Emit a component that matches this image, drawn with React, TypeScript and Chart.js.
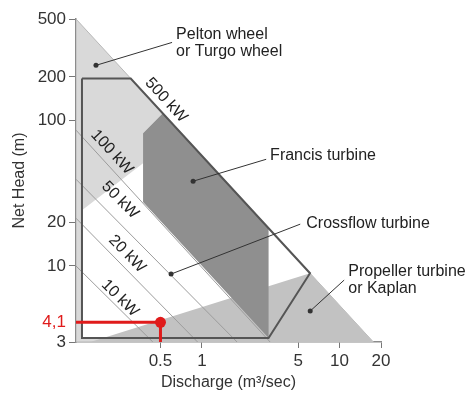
import React, { useEffect, useRef } from "react";
import { Chart, registerables } from "chart.js";

Chart.register(...registerables);

type P = [number, number];

// Axis ranges (discharge m3/s, net head m)
const Q_MIN = 0.1217;
const Q_MAX = 20;
const H_MIN = 3;
const H_MAX = 500;

const xTickValues = [0.5, 1, 5, 10, 20];
const xTickLabels = ["0.5", "1", "5", "10", "20"];
const yTickValues = [3, 4.1, 10, 20, 100, 200, 500];
const yTickLabels = ["3", "4,1", "10", "20", "100", "200", "500"];

// Regions [Q, H]
const peltonArea: P[] = [[0.1217, 500], [17.6, 3], [0.1217, 3]];
const crossflowArea: P[] = [[0.1345, 24.2], [0.3736, 50.9], [0.3736, 81.8], [0.52, 112.3], [6.1, 8.92], [3.05, 3.2], [0.1345, 3.2]];
const kaplanArea: P[] = [[0.155, 3], [6.1, 8.92], [17.6, 3]];
const francisArea: P[] = [[0.3736, 81.8], [0.52, 112.3], [3.05, 18.2], [3.05, 3.2], [0.3736, 27.5]];
const crossflowOutline: P[] = [[0.1345, 195], [0.304, 195], [6.1, 8.92], [3.05, 3.2], [0.1345, 3.2], [0.1345, 195]];

// Power lines
const kw500: P[] = [[0.1217, 500], [17.6, 3]];
const kw100: P[] = [[0.1217, 86], [3.13, 3]];
const kw50: P[] = [[0.1217, 39.5], [1.8, 3]];
const kw20: P[] = [[0.1217, 21.3], [0.93, 3]];
const kw10: P[] = [[0.1217, 10], [0.44, 3]];

const powerLabels = ["500 kW", "100 kW", "50 kW", "20 kW", "10 kW"];
const powerLabelAt: P[] = [[0.549, 138], [0.222, 60.6], [0.254, 28.4], [0.286, 12.1], [0.254, 6.0]];
const powerLines: P[][] = [kw500, kw100, kw50, kw20, kw10];

// Leaders (dot first, then label end)
const leaderPelton: P[] = [[0.17, 240], [0.607, 345]];
const leaderFrancis: P[] = [[0.863, 38.3], [2.93, 54.2]];
const leaderCrossflow: P[] = [[0.597, 8.8], [5.18, 19.4]];
const leaderKaplan: P[] = [[6.12, 4.9], [10.8, 8.0]];

const turbineNames: string[][] = [
  ["Pelton wheel", "or Turgo wheel"],
  ["Francis turbine"],
  ["Crossflow turbine"],
  ["Propeller turbine", "or Kaplan"],
];
const turbineLabelAt: P[] = [[0.649, 391.5], [3.13, 57.8], [5.73, 19.7], [11.57, 9.08]];

// Site
const siteQ = 0.5;
const siteH = 4.1;
const siteMarker: P[] = [[Q_MIN, siteH], [siteQ, siteH], [siteQ, H_MIN]];

const FONT = '"Liberation Sans", Arial, Helvetica, sans-serif';

const toXY = (pts: P[]) => pts.map(([x, y]) => ({ x, y }));

const area = (pts: P[], color: string, order: number, border = "rgba(0,0,0,0)", bw = 0) => ({
  data: toXY([...pts, pts[0]]),
  showLine: true,
  fill: "shape",
  backgroundColor: color,
  borderColor: border,
  borderWidth: bw,
  pointRadius: 0,
  tension: 0,
  order,
});

const line = (pts: P[], color: string, width: number, order: number, dot = 0) => ({
  data: toXY(pts),
  showLine: true,
  fill: false,
  borderColor: color,
  backgroundColor: color,
  borderWidth: width,
  pointRadius: (c: any) => (dot > 0 && c.dataIndex === 0 ? dot : 0),
  pointBorderWidth: 0,
  tension: 0,
  order,
});

const textPlugin = {
  id: "textLabels",
  afterDatasetsDraw(chart: any) {
    const { ctx } = chart;
    const xs = chart.scales.x;
    const ys = chart.scales.y;
    ctx.save();
    ctx.fillStyle = "#222";
    ctx.font = `16px ${FONT}`;
    powerLabels.forEach((t, i) => {
      const ln = powerLines[i];
      const x0 = xs.getPixelForValue(ln[0][0]);
      const y0 = ys.getPixelForValue(ln[0][1]);
      const x1 = xs.getPixelForValue(ln[1][0]);
      const y1 = ys.getPixelForValue(ln[1][1]);
      const ang = Math.atan2(y1 - y0, x1 - x0);
      const px = xs.getPixelForValue(powerLabelAt[i][0]);
      const py = ys.getPixelForValue(powerLabelAt[i][1]);
      ctx.save();
      ctx.translate(px, py);
      ctx.rotate(ang);
      ctx.textAlign = "center";
      ctx.textBaseline = "middle";
      ctx.fillText(t, 0, 0);
      ctx.restore();
    });
    ctx.textAlign = "left";
    ctx.textBaseline = "middle";
    turbineNames.forEach((lines, i) => {
      const px = xs.getPixelForValue(turbineLabelAt[i][0]);
      const py = ys.getPixelForValue(turbineLabelAt[i][1]);
      lines.forEach((l, j) => ctx.fillText(l, px, py + j * 17));
    });
    ctx.restore();
  },
};

export default function App() {
  const ref = useRef<HTMLCanvasElement | null>(null);

  useEffect(() => {
    if (!ref.current) return;
    const datasets: any[] = [
      area(peltonArea, "#d9d9d9", 9, "#b8b8b8", 1),
      area(crossflowArea, "#ffffff", 8),
      area(kaplanArea, "#c2c2c2", 7),
      line(kw100, "#9c9c9c", 1, 6),
      line(kw50, "#9c9c9c", 1, 6),
      line(kw20, "#9c9c9c", 1, 6),
      line(kw10, "#9c9c9c", 1, 6),
      area(francisArea, "#8f8f8f", 5),
      line(crossflowOutline, "#555555", 2, 4),
      line(leaderPelton, "#333333", 1, 3, 2.5),
      line(leaderFrancis, "#333333", 1, 3, 2.5),
      line(leaderCrossflow, "#333333", 1, 3, 2.5),
      line(leaderKaplan, "#333333", 1, 3, 2.5),
      {
        data: toXY(siteMarker),
        showLine: true,
        fill: false,
        borderColor: "#e01b1b",
        backgroundColor: "#e01b1b",
        borderWidth: 3,
        pointRadius: (c: any) => (c.dataIndex === 1 ? 5.5 : 0),
        pointBorderWidth: 0,
        tension: 0,
        clip: 6,
        order: 0,
      },
    ];

    const chart = new Chart(ref.current, {
      type: "scatter",
      data: { datasets },
      options: {
        animation: false,
        responsive: false,
        events: [],
        layout: { padding: { left: 0, top: 19, right: 84, bottom: 0 } },
        plugins: { legend: { display: false }, tooltip: { enabled: false } },
        scales: {
          x: {
            type: "logarithmic",
            min: Q_MIN,
            max: Q_MAX,
            afterBuildTicks: (s: any) => {
              s.ticks = xTickValues.map((v) => ({ value: v }));
            },
            afterFit: (s: any) => {
              s.height = 54;
            },
            ticks: {
              autoSkip: false,
              maxRotation: 0,
              padding: 3,
              color: "#333",
              font: { family: FONT, size: 17 },
              callback: (v: any) => {
                const i = xTickValues.indexOf(Number(v));
                return i >= 0 ? xTickLabels[i] : "";
              },
            },
            grid: { drawOnChartArea: false, drawTicks: true, tickLength: 6, tickColor: "#777" },
            border: { color: "#8c8c8c", width: 1.5 },
            title: {
              display: true,
              text: "Discharge (m³/sec)",
              color: "#333",
              font: { family: FONT, size: 16 },
              padding: { top: 0, bottom: 4 },
            },
          },
          y: {
            type: "logarithmic",
            min: H_MIN,
            max: H_MAX,
            afterBuildTicks: (s: any) => {
              s.ticks = yTickValues.map((v) => ({ value: v }));
            },
            afterFit: (s: any) => {
              s.width = 76;
            },
            ticks: {
              autoSkip: false,
              padding: 3,
              color: (c: any) => (c.tick && c.tick.value === siteH ? "#e01b1b" : "#333"),
              font: { family: FONT, size: 17 },
              callback: (v: any) => {
                const i = yTickValues.indexOf(Number(v));
                return i >= 0 ? yTickLabels[i] : "";
              },
            },
            grid: {
              drawOnChartArea: false,
              drawTicks: true,
              tickLength: 7,
              tickColor: (c: any) => (c.tick && c.tick.value === siteH ? "rgba(0,0,0,0)" : "#777"),
            },
            border: { color: "#8c8c8c", width: 1.5 },
            title: {
              display: true,
              text: "Net Head (m)",
              color: "#333",
              font: { family: FONT, size: 16 },
              padding: { top: 10, bottom: 0 },
            },
          },
        },
      },
      plugins: [textPlugin],
    } as any);

    return () => chart.destroy();
  }, []);

  return (
    <div style={{ position: "absolute", left: 0, top: 0, width: 465, height: 396, background: "#fff" }}>
      <canvas ref={ref} width={465} height={396} style={{ display: "block" }} />
    </div>
  );
}
